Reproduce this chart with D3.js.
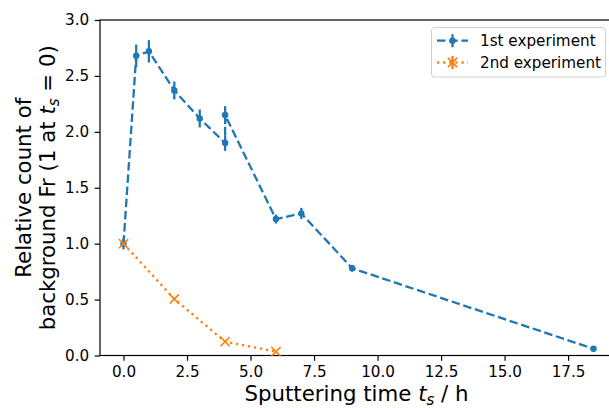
<!DOCTYPE html>
<html>
<head>
<meta charset="utf-8">
<script src="https://cdn.jsdelivr.net/npm/d3@7"></script>
<style>
  body { margin: 0; background: #fff; }
  svg { display: block; font-family: "DejaVu Sans", sans-serif; }
</style>
</head>
<body>
<svg id="chart" width="609" height="408"></svg>
<script>
// 1st experiment: sputtering time (h), relative count, error
var exp1Time  = [0, 0.5, 1, 2, 3, 4, 4, 6, 7, 9, 18.5];
var exp1Count = [1.0, 2.68, 2.72, 2.37, 2.12, 1.90, 2.15, 1.22, 1.27, 0.78, 0.06];
var exp1Err   = [0.05, 0.1, 0.1, 0.08, 0.08, 0.07, 0.08, 0.04, 0.05, 0.03, 0.015];

// 2nd experiment
var exp2Time  = [0, 2, 4, 6];
var exp2Count = [1.0, 0.505, 0.124, 0.035];

var xTicks = [0, 2.5, 5, 7.5, 10, 12.5, 15, 17.5];
var yTicks = [0, 0.5, 1, 1.5, 2, 2.5, 3];

var blue = '#1f77b4', orange = '#ff7f0e';
var lw = 2.3, tickFs = 15.2, labelFs = 21.3;
var dash = '8.5,3.7', dots = '2.3,3.8';

var svg = d3.select('#chart');
// note: "top" is window.top, so use other names
var pLeft = 100, pRight = 617, pTop = 20, pBottom = 355.5;

var x = d3.scaleLinear().domain([-0.925, 19.425]).range([pLeft, pRight]);
var y = d3.scaleLinear().domain([0, 3]).range([pBottom, pTop]);

var series1 = exp1Time.map(function (t, i) { return {t: t, v: exp1Count[i], e: exp1Err[i]}; });
var series2 = exp2Time.map(function (t, i) { return {t: t, v: exp2Count[i]}; });

// axes
var xAxis = svg.append('g')
    .attr('transform', 'translate(0,' + pBottom + ')')
    .call(d3.axisBottom(x).tickValues(xTicks).tickSize(5.3).tickPadding(5)
        .tickFormat(d3.format('.1f')));
var yAxis = svg.append('g')
    .attr('transform', 'translate(' + pLeft + ',0)')
    .call(d3.axisLeft(y).tickValues(yTicks).tickSize(5.3).tickPadding(5.5)
        .tickFormat(d3.format('.1f')));

[xAxis, yAxis].forEach(function (a) {
    a.select('.domain').remove();
    a.selectAll('.tick line').attr('stroke', '#000').attr('stroke-width', 1.2);
    a.selectAll('.tick text')
        .attr('font-family', 'DejaVu Sans').attr('font-size', tickFs).attr('fill', '#000');
});

// frame
svg.append('rect')
    .attr('x', pLeft).attr('y', pTop)
    .attr('width', pRight - pLeft).attr('height', pBottom - pTop)
    .attr('fill', 'none').attr('stroke', '#000').attr('stroke-width', 1.2);

var line = d3.line()
    .x(function (d) { return x(d.t); })
    .y(function (d) { return y(d.v); });

// 1st experiment
svg.append('path')
    .datum(series1)
    .attr('d', line)
    .attr('fill', 'none')
    .attr('stroke', blue)
    .attr('stroke-width', lw)
    .attr('stroke-dasharray', dash);

svg.append('g').selectAll('line')
    .data(series1)
    .enter().append('line')
    .attr('x1', function (d) { return x(d.t); })
    .attr('x2', function (d) { return x(d.t); })
    .attr('y1', function (d) { return y(d.v - d.e); })
    .attr('y2', function (d) { return y(d.v + d.e); })
    .attr('stroke', blue)
    .attr('stroke-width', lw);

svg.append('g').selectAll('circle')
    .data(series1)
    .enter().append('circle')
    .attr('cx', function (d) { return x(d.t); })
    .attr('cy', function (d) { return y(d.v); })
    .attr('r', 3.2)
    .attr('fill', blue);

// 2nd experiment
svg.append('path')
    .datum(series2)
    .attr('d', line)
    .attr('fill', 'none')
    .attr('stroke', orange)
    .attr('stroke-width', lw)
    .attr('stroke-dasharray', dots);

var xSize = 4.6;
function xMark(g, cx, cy) {
    g.append('path')
        .attr('d', 'M' + (cx - xSize) + ',' + (cy - xSize) + 'L' + (cx + xSize) + ',' + (cy + xSize) +
              'M' + (cx - xSize) + ',' + (cy + xSize) + 'L' + (cx + xSize) + ',' + (cy - xSize))
        .attr('stroke', orange)
        .attr('stroke-width', 1.6)
        .attr('fill', 'none');
}
var marks2 = svg.append('g');
series2.forEach(function (d) { xMark(marks2, x(d.t), y(d.v)); });

// legend
var lg = svg.append('g');
lg.append('rect')
    .attr('x', 431.5).attr('y', 27.5).attr('width', 174).attr('height', 49.5)
    .attr('rx', 3)
    .attr('fill', '#fff').attr('fill-opacity', 0.8)
    .attr('stroke', '#d0d0d0').attr('stroke-width', 1);

var ly1 = 40.7, ly2 = 62.5, hx0 = 437, hx1 = 468, hmid = (hx0 + hx1) / 2;
lg.append('line')
    .attr('x1', hx0).attr('x2', hx1).attr('y1', ly1).attr('y2', ly1)
    .attr('stroke', blue).attr('stroke-width', lw).attr('stroke-dasharray', dash);
lg.append('line')
    .attr('x1', hmid).attr('x2', hmid).attr('y1', ly1 - 6.5).attr('y2', ly1 + 6.5)
    .attr('stroke', blue).attr('stroke-width', lw);
lg.append('circle').attr('cx', hmid).attr('cy', ly1).attr('r', 3.2).attr('fill', blue);

lg.append('line')
    .attr('x1', hx0).attr('x2', hx1).attr('y1', ly2).attr('y2', ly2)
    .attr('stroke', orange).attr('stroke-width', lw).attr('stroke-dasharray', dots);
lg.append('line')
    .attr('x1', hmid).attr('x2', hmid).attr('y1', ly2 - 6.5).attr('y2', ly2 + 6.5)
    .attr('stroke', orange).attr('stroke-width', lw);
xMark(lg, hmid, ly2);

lg.append('text').attr('x', 480).attr('y', ly1 + 5.5)
    .attr('font-size', tickFs).text('1st experiment');
lg.append('text').attr('x', 480).attr('y', ly2 + 5.5)
    .attr('font-size', tickFs).text('2nd experiment');

// axis labels
var xl = svg.append('text')
    .attr('x', (pLeft + pRight) / 2 - 2).attr('y', 401)
    .attr('text-anchor', 'middle')
    .attr('font-size', labelFs);
xl.append('tspan').text('Sputtering time ');
xl.append('tspan').attr('font-style', 'italic').text('t');
xl.append('tspan').attr('font-style', 'italic').attr('font-size', 15).attr('dy', 3.5).text('s');
xl.append('tspan').attr('dy', -3.5).text(' / h');

var yMid = (pTop + pBottom) / 2;
var yl = svg.append('text')
    .attr('transform', 'translate(31,' + yMid + ') rotate(-90)')
    .attr('text-anchor', 'middle')
    .attr('font-size', labelFs);
yl.append('tspan').text('Relative count of');
var yl2 = svg.append('text')
    .attr('transform', 'translate(55,' + yMid + ') rotate(-90)')
    .attr('text-anchor', 'middle')
    .attr('font-size', labelFs);
yl2.append('tspan').text('background Fr (1 at ');
yl2.append('tspan').attr('font-style', 'italic').text('t');
yl2.append('tspan').attr('font-style', 'italic').attr('font-size', 15).attr('dy', 3.5).text('s');
yl2.append('tspan').attr('dy', -3.5).text(' = 0)');
</script>
</body>
</html>
